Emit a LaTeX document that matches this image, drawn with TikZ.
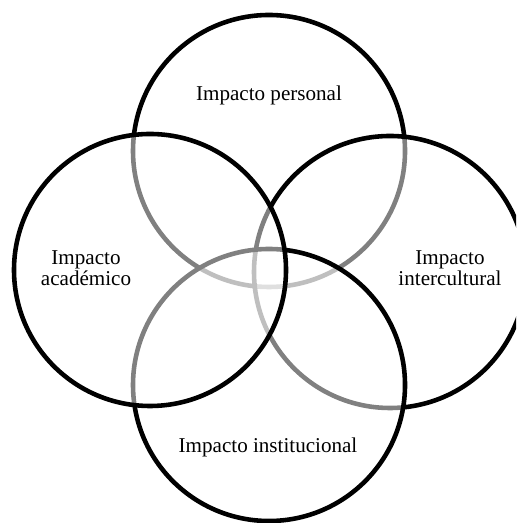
\documentclass[tikz,border=0pt]{standalone}
\usepackage{fontspec}
\setmainfont{Liberation Serif}
\tikzset{ring/.style={draw=black,line width=2.6pt,fill=white,fill opacity=0.5},
  impact/.style={font=\fontsize{12}{12}\selectfont,align=center}}
\newcommand{\impactring}[2]{\draw[ring] (#1,#2) circle (2.72);}
\newcommand{\impactlabel}[4]{\node[impact] (#3) at (#1,#2) {#4};}

\begin{document}
\begin{tikzpicture}
	\useasboundingbox (0,0) rectangle (10.32,10.46);
	\clip (0,0) rectangle (10.32,10.46);
	% drawing order gives the grey arcs under the white veils
	\impactring{5.38}{7.44} \impactring{7.80}{5.02}
	\impactring{5.38}{2.76} \impactring{3.00}{5.06}
	\impactlabel{5.38}{8.56}{personal}{Impacto personal}
	\impactlabel{1.72}{5.10}{academico}{Impacto\\acad\'emico}
	\impactlabel{9.00}{5.10}{intercultural}{Impacto\\intercultural}
	\impactlabel{5.36}{1.52}{institucional}{Impacto institucional}
\end{tikzpicture}
\end{document}
